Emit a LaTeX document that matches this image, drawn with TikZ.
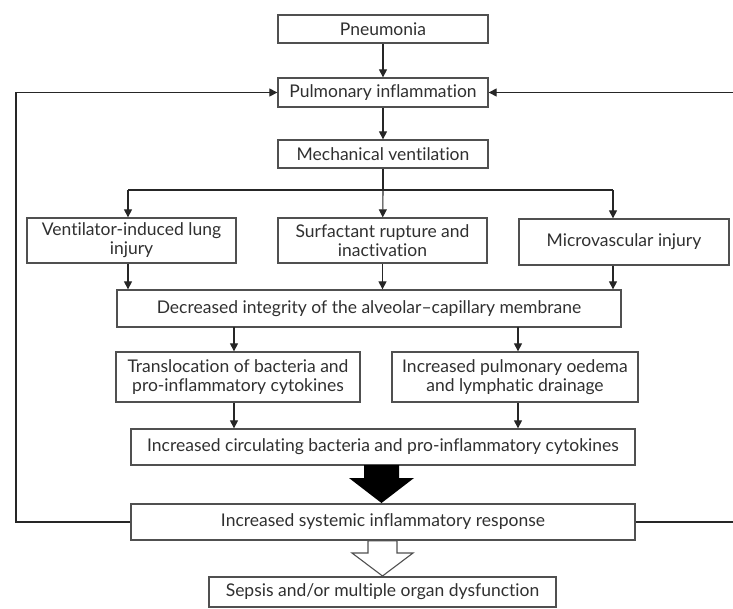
\documentclass[tikz,border=0pt]{standalone}
\usepackage{fontspec}
\setmainfont[Ligatures=NoCommon]{Lato}
\usetikzlibrary{arrows.meta}
\definecolor{txt}{HTML}{303030}
\definecolor{edge}{HTML}{505050}
\tikzset{
  box/.style={draw=edge, line width=1.3pt, fill=white, text=txt, align=center,
    inner sep=1pt, font=\fontsize{17.5}{19}\selectfont},
  conn/.style={draw=black!85, line width=1.1pt},
  arr/.style={conn, -{Triangle[width=8pt,length=8pt]}},
}
\begin{document}
\begin{tikzpicture}[x=1pt,y=-1pt]
\useasboundingbox (0,0) rectangle (733,608);
\node[box, minimum width=210pt, minimum height=28pt] (pn) at (383,29) {Pneumonia};
\node[box, minimum width=210pt, minimum height=29pt] (pi) at (383,92.5) {Pulmonary inflammation};
\node[box, minimum width=210pt, minimum height=28pt] (mv) at (383,154) {Mechanical ventilation};
\node[box, minimum width=209pt, minimum height=45pt] (vil) at (131.5,240.5) {Ventilator-induced lung\\injury};
\node[box, minimum width=209pt, minimum height=45pt] (sr) at (382.5,240.5) {Surfactant rupture and\\inactivation};
\node[box, minimum width=210pt, minimum height=46pt] (mi) at (624,242) {Microvascular injury};
\node[box, minimum width=504pt, minimum height=37pt] (dec) at (369,308.5) {Decreased integrity of the alveolar--capillary membrane};
\node[box, minimum width=244pt, minimum height=50pt] (tr) at (238,377) {Translocation of bacteria and\\pro-inflammatory cytokines};
\node[box, minimum width=246pt, minimum height=50pt] (po) at (515,377) {Increased pulmonary oedema\\and lymphatic drainage};
\node[box, minimum width=504pt, minimum height=36pt] (circ) at (383,447) {Increased circulating bacteria and pro-inflammatory cytokines};
\node[box, minimum width=504pt, minimum height=36pt] (sys) at (383,522) {Increased systemic inflammatory response};
\node[box, minimum width=347pt, minimum height=30pt] (sep) at (382.5,592) {Sepsis and/or multiple organ dysfunction};

\draw[arr] (pn) -- (pi);
\draw[arr] (pi) -- (mv);
\coordinate (br) at (383,190);
\coordinate (brl) at (128,190);
\coordinate (brr) at (613,190);
\draw[conn] (mv) -- (br);
\draw[conn] (brl) -- (brr);
\draw[arr] (brl) -- (brl |- vil.north);
\draw[arr] (br) -- (sr);
\draw[arr] (brr) -- (brr |- mi.north);
\draw[arr] (brl |- vil.south) -- (brl |- dec.north);
\draw[arr] (sr) -- (sr.south |- dec.north);
\draw[arr] (brr |- mi.south) -- (brr |- dec.north);
\coordinate (dl) at (234,327);
\coordinate (dr) at (518,327);
\draw[arr] (dl) -- (dl |- tr.north);
\draw[arr] (dr) -- (dr |- po.north);
\draw[arr] (dl |- tr.south) -- (dl |- circ.north);
\draw[arr] (dr |- po.south) -- (dr |- circ.north);

% fat black arrow
\fill[black] (364,465) -- (399,465) -- (399,478) -- (414,478) -- (381.5,503) -- (349,478) -- (364,478) -- cycle;
% hollow arrow
\draw[fill=white, draw=edge, line width=1.1pt] (368,540.7) -- (397,540.7) -- (397,553) -- (413,553) -- (382.5,576) -- (352,553) -- (368,553) -- cycle;

% feedback
\coordinate (fl) at (16,522);
\coordinate (fr) at (733,522);
\coordinate (tl) at (16,92.5);
\coordinate (tr2) at (733,92.5);
\draw[arr] (sys.west) -- (fl) -- (tl) -- (pi.west);
\draw[conn] (sys.east) -- (fr);
\draw[arr] (tr2) -- (pi.east);
\end{tikzpicture}
\end{document}
